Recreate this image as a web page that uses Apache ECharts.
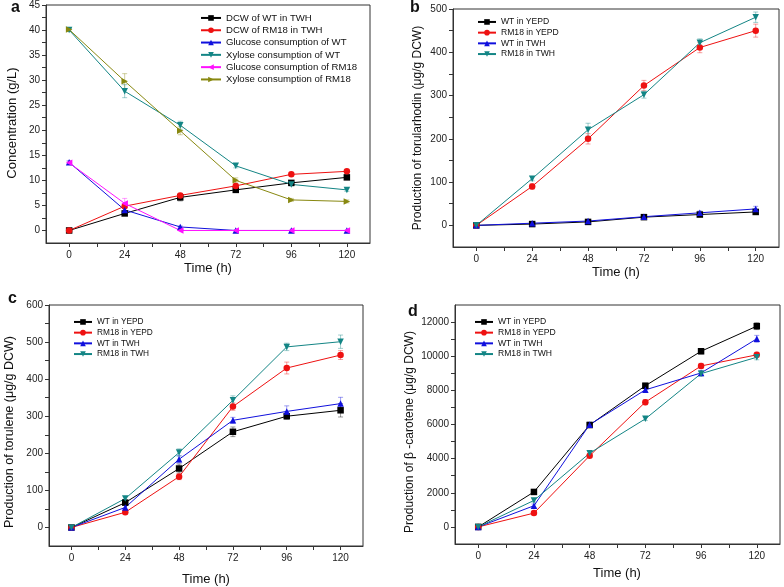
<!DOCTYPE html>
<html><head><meta charset="utf-8">
<script src="https://cdn.jsdelivr.net/npm/echarts@6/dist/echarts.min.js"></script>
<style>html,body{margin:0;padding:0;background:#fff}#c{width:784px;height:587px}</style>
</head><body><div id="c"></div>
<script>
const hours = [0, 24, 48, 72, 96, 120];
const xTicks = [0, 24, 48, 72, 96, 120];
const xMinor = [12, 36, 60, 84, 108];

// Panel a: concentration (g/L)
const aNames = ['DCW of WT in TWH','DCW of RM18 in TWH','Glucose consumption of WT','Xylose consumption of WT','Glucose consumption of RM18','Xylose consumption of RM18'];
const aDcwWT = [0, 3.4, 6.6, 8.1, 9.5, 10.6];
const aDcwRM = [0, 4.85, 7.0, 8.9, 11.2, 11.8];
const aGluWT = [13.6, 4.1, 0.7, 0, 0, 0];
const aXylWT = [40.0, 27.8, 21.0, 12.9, 9.2, 8.1];
const aGluRM = [13.5, 5.4, 0, 0, 0, 0];
const aXylRM = [40.1, 29.8, 19.9, 10.0, 6.1, 5.8];
const aErrDcwWT = [0, 0.3, 0.7, 0.3, 0.3, 0.3];
const aErrDcwRM = [0, 0.3, 0.4, 0.4, 0.3, 0.3];
const aErrGluWT = [0.3, 0.5, 0.2, 0, 0, 0];
const aErrXylWT = [0.3, 1.3, 0.8, 0.4, 0.3, 0.3];
const aErrGluRM = [0.3, 1.0, 0, 0, 0, 0];
const aErrXylRM = [0.3, 1.5, 0.8, 0.5, 0.3, 0.3];
const aYTicks = [0,5,10,15,20,25,30,35,40,45];
const aYMinor = [2.5,7.5,12.5,17.5,22.5,27.5,32.5,37.5,42.5];

// Panel b: torularhodin
const legNames = ['WT in YEPD','RM18 in YEPD','WT in TWH','RM18 in TWH'];
const bWTY = [0, 3, 8, 19, 25, 31];
const bRMY = [0, 90, 200, 323, 411, 450];
const bWTT = [0, 5, 10, 20, 29, 38];
const bRMT = [0, 108, 221, 302, 422, 481];
const bErrWTY = [3, 3, 3, 3, 4, 4];
const bErrRMY = [3, 6, 12, 12, 12, 15];
const bErrWTT = [3, 3, 3, 3, 4, 6];
const bErrRMT = [3, 5, 15, 8, 9, 12];
const bYTicks = [0,100,200,300,400,500];
const bYMinor = [50,150,250,350,450];

// Panel c: torulene
const cWTY = [0, 67, 159, 258, 300, 316];
const cRMY = [0, 41, 137, 326, 430, 465];
const cWTT = [0, 54, 184, 289, 313, 334];
const cRMT = [0, 78, 202, 343, 487, 501];
const cErrWTY = [5, 6, 12, 13, 8, 18];
const cErrRMY = [3, 5, 8, 10, 16, 12];
const cErrWTT = [3, 6, 10, 8, 15, 17];
const cErrRMT = [5, 5, 10, 12, 10, 18];
const cYTicks = [0,100,200,300,400,500,600];
const cYMinor = [50,150,250,350,450,550];

// Panel d: beta-carotene
const dWTY = [0, 2050, 5970, 8270, 10290, 11760];
const dRMY = [0, 810, 4170, 7310, 9430, 10080];
const dWTT = [0, 1240, 5990, 8030, 9020, 11020];
const dRMT = [0, 1550, 4320, 6330, 8980, 9940];
const dErrWTY = [80, 100, 150, 150, 150, 200];
const dErrRMY = [80, 100, 100, 150, 150, 150];
const dErrWTT = [80, 100, 150, 150, 150, 200];
const dErrRMT = [80, 100, 100, 100, 150, 150];
const dYTicks = [0,2000,4000,6000,8000,10000,12000];
const dYMinor = [1000,3000,5000,7000,9000,11000];

const COL = {black:'#000000', red:'#ee1111', blue:'#1010dd', teal:'#138585', mag:'#ff10ff', olive:'#888810'};
const TRI_DOWN = 'path://M0,0 L10,0 L5,9 Z';
const TRI_LEFT = 'path://M9,0 L9,10 L0,5 Z';
const TRI_RIGHT = 'path://M0,0 L0,10 L9,5 Z';

const grids = [
  {left:46, top:4, width:324, height:239},
  {left:453, top:9, width:326, height:238},
  {left:49, top:305, width:314, height:241},
  {left:455, top:305, width:325, height:239}
];
const yRanges = [[-2.5,45,aYTicks,aYMinor],[-50,500,bYTicks,bYMinor],[-50,600,cYTicks,cYMinor],[-1000,13000,dYTicks,dYMinor]];

const xAxes = [], yAxes = [];
grids.forEach((g,i)=>{
  xAxes.push({gridIndex:i, type:'value', min:-10, max:130,
    axisLine:{onZero:false, lineStyle:{color:'#333', width:1}},
    axisTick:{customValues:xTicks.concat(xMinor), length:4, inside:false, lineStyle:{color:'#333'}},
    axisLabel:{customValues:xTicks, fontSize:10, color:'#222', margin:7, fontFamily:'Liberation Sans'},
    splitLine:{show:false}});
  const r = yRanges[i];
  yAxes.push({gridIndex:i, type:'value', min:r[0], max:r[1],
    axisLine:{show:true, onZero:false, lineStyle:{color:'#333', width:1}},
    axisTick:{show:true, customValues:r[2].concat(r[3]), length:4, lineStyle:{color:'#333'}},
    axisLabel:{customValues:r[2], fontSize:10, color:'#222', margin:6, fontFamily:'Liberation Sans', formatter:v=>String(v)},
    splitLine:{show:false}});
});

function mk(name, data, color, symbol, grid){
  return {name, type:'line', xAxisIndex:grid, yAxisIndex:grid, z:3,
    data: hours.map((h,k)=>[h, data[k]]),
    symbol, symbolSize: 6.5,
    lineStyle:{color, width:1}, itemStyle:{color}, animation:false};
}
function errBars(data, err, color, grid){
  return {type:'custom', xAxisIndex:grid, yAxisIndex:grid, z:2, silent:true, animation:false,
    data: hours.map((h,k)=>[h, data[k]-err[k], data[k]+err[k]]),
    renderItem:(params, api)=>{
      const lo = api.coord([api.value(0), api.value(1)]);
      const hi = api.coord([api.value(0), api.value(2)]);
      const w = 2.5;
      const st = {stroke:color, lineWidth:1, opacity:0.4};
      return {type:'group', children:[
        {type:'line', shape:{x1:lo[0], y1:lo[1], x2:hi[0], y2:hi[1]}, style:st},
        {type:'line', shape:{x1:lo[0]-w, y1:lo[1], x2:lo[0]+w, y2:lo[1]}, style:st},
        {type:'line', shape:{x1:hi[0]-w, y1:hi[1], x2:hi[0]+w, y2:hi[1]}, style:st}
      ]};
    }};
}

const series = [];
const aSets = [[aDcwWT,aErrDcwWT,COL.black,'rect'],[aDcwRM,aErrDcwRM,COL.red,'circle'],[aGluWT,aErrGluWT,COL.blue,'triangle'],
  [aXylWT,aErrXylWT,COL.teal,TRI_DOWN],[aGluRM,aErrGluRM,COL.mag,TRI_LEFT],[aXylRM,aErrXylRM,COL.olive,TRI_RIGHT]];
aSets.forEach((s,i)=>{ series.push(errBars(s[0], s[1], s[2], 0)); series.push(mk(aNames[i], s[0], s[2], s[3], 0)); });

const panelData = [[[bWTY,bErrWTY],[bRMY,bErrRMY],[bWTT,bErrWTT],[bRMT,bErrRMT]],
  [[cWTY,cErrWTY],[cRMY,cErrRMY],[cWTT,cErrWTT],[cRMT,cErrRMT]],
  [[dWTY,dErrWTY],[dRMY,dErrRMY],[dWTT,dErrWTT],[dRMT,dErrRMT]]];
const pColors = [COL.black, COL.red, COL.blue, COL.teal];
const pSyms = ['rect','circle','triangle',TRI_DOWN];
const pNames = [[],[],[]];
panelData.forEach((pd,pi)=>{
  pd.forEach((d,si)=>{
    series.push(errBars(d[0], d[1], pColors[si], pi+1));
    const nm = legNames[si] + '\u200b'.repeat(pi+1);
    pNames[pi].push(nm);
    series.push(mk(nm, d[0], pColors[si], pSyms[si], pi+1));
  });
});

function legendFor(names, left, top, fontSize, rowH, iw){
  return {orient:'vertical', left, top, itemWidth:iw, itemHeight:7, itemGap:0, itemStyle:{},
    data: names, formatter: n=>n.replace(/\u200b/g,''),
    textStyle:{fontSize, lineHeight:rowH, color:'#111', fontFamily:'Liberation Sans'},
    selectedMode:false, padding:0};
}

const titleStyle = (size)=>({fontSize:size, fill:'#111', fontFamily:'Liberation Sans'});
const graphic = [
  {type:'text', left:11, top:0, style:{text:'a', font:'bold 16px Liberation Sans', fill:'#111'}},
  {type:'text', left:410, top:0, style:{text:'b', font:'bold 16px Liberation Sans', fill:'#111'}},
  {type:'text', left:8, top:291, style:{text:'c', font:'bold 16px Liberation Sans', fill:'#111'}},
  {type:'text', left:408, top:304, style:{text:'d', font:'bold 16px Liberation Sans', fill:'#111'}},
  {type:'text', x:208, y:268, style:Object.assign({text:'Time (h)', textAlign:'center', textVerticalAlign:'middle'}, titleStyle(13))},
  {type:'text', x:616, y:272, style:Object.assign({text:'Time (h)', textAlign:'center', textVerticalAlign:'middle'}, titleStyle(13))},
  {type:'text', x:206, y:579, style:Object.assign({text:'Time (h)', textAlign:'center', textVerticalAlign:'middle'}, titleStyle(13))},
  {type:'text', x:617, y:573, style:Object.assign({text:'Time (h)', textAlign:'center', textVerticalAlign:'middle'}, titleStyle(13))},
  {type:'text', x:12, y:123, rotation:Math.PI/2, style:Object.assign({text:'Concentration (g/L)', textAlign:'center', textVerticalAlign:'middle'}, titleStyle(13))},
  {type:'text', x:418, y:128, rotation:Math.PI/2, style:Object.assign({text:'Production of torularhodin (μg/g DCW)', textAlign:'center', textVerticalAlign:'middle'}, titleStyle(12))},
  {type:'text', x:10, y:432, rotation:Math.PI/2, style:Object.assign({text:'Production of torulene (μg/g DCW)', textAlign:'center', textVerticalAlign:'middle'}, titleStyle(12.5))},
  {type:'text', x:410, y:432, rotation:Math.PI/2, style:Object.assign({text:'Production of β -carotene (μg/g DCW)', textAlign:'center', textVerticalAlign:'middle'}, titleStyle(12))}
];

const chart = echarts.init(document.getElementById('c'), null, {renderer:'canvas'});
chart.setOption({
  backgroundColor:'#fff',
  animation:false,
  grid: grids.map(g=>Object.assign({show:true, borderColor:'#333', borderWidth:1, backgroundColor:'transparent'}, g)),
  xAxis: xAxes, yAxis: yAxes,
  legend: [
    legendFor(aNames, 200, 11.8, 9.6, 12.3, 20),
    legendFor(pNames[0], 477, 16.6, 8.6, 10.7, 18),
    legendFor(pNames[1], 73, 316.6, 8.3, 10.7, 18),
    legendFor(pNames[2], 474, 316.6, 8.6, 10.7, 18)
  ],
  series, graphic
});
</script></body></html>
